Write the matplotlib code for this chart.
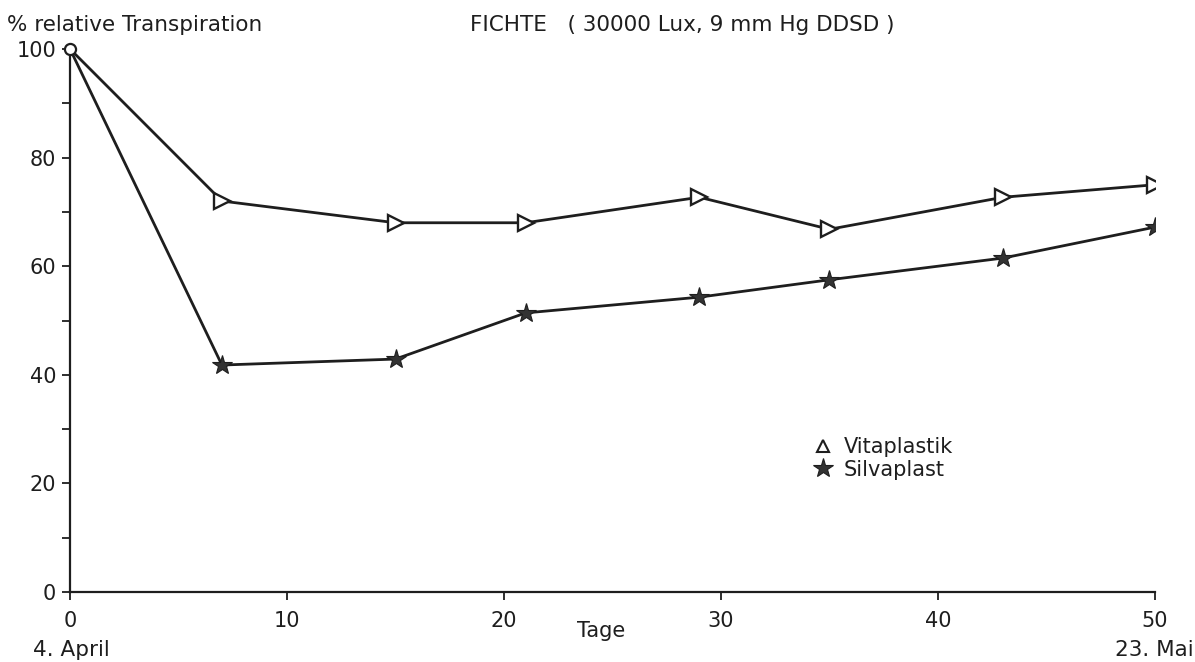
import numpy as np
import matplotlib.pyplot as plt

# Tage nach 4. April
tage = [0, 7, 15, 21, 29, 35, 43, 50]
vitaplastik = [100, 72.0, 68.0, 68.0, 72.7, 66.8, 72.7, 75.0]
silvaplast = [100, 41.8, 42.9, 51.4, 54.3, 57.5, 61.5, 67.2]

ink = '#1e1e1e'
plt.rcParams['font.family'] = ['DejaVu Sans']

fig = plt.figure(figsize=(11.95, 6.62), dpi=100)
ax = fig.add_axes([0.0586, 0.1057, 0.9079, 0.8203])

ax.plot(tage, vitaplastik, color=ink, lw=2.0, zorder=2)
ax.plot(tage[1:], vitaplastik[1:], ls='none', marker='>', ms=11,
        mfc='white', mec=ink, mew=1.7, zorder=3)
ax.plot(tage, silvaplast, color=ink, lw=2.0, zorder=2)
ax.plot(tage[1:], silvaplast[1:], ls='none', marker='*', ms=15,
        mfc='#333333', mec=ink, mew=0.8, zorder=3)
# gemeinsamer Startpunkt
ax.plot(tage[0], vitaplastik[0], ls='none', marker='o', ms=8,
        mfc='white', mec=ink, mew=1.6, zorder=4, clip_on=False)

ax.set_xlim(0, 50)
ax.set_ylim(0, 100)
ax.spines['top'].set_visible(False)
ax.spines['right'].set_visible(False)
for s in ['left', 'bottom']:
    ax.spines[s].set_linewidth(1.6)
    ax.spines[s].set_color(ink)

ax.set_xticks([0, 10, 20, 30, 40, 50])
ax.set_yticks([0, 20, 40, 60, 80, 100])
ax.set_yticks([10, 30, 50, 70, 90], minor=True)
ax.tick_params(axis='both', which='both', direction='out', length=6,
               width=1.3, color=ink, labelsize=15, labelcolor=ink)
ax.tick_params(axis='x', pad=8)
ax.tick_params(axis='y', pad=4)

fig.text(0.006, 0.962, '% relative Transpiration', fontsize=15.5, color=ink,
         ha='left', va='center')
fig.text(0.393, 0.962, 'FICHTE   ( 30000 Lux, 9 mm Hg DDSD )', fontsize=15.5,
         color=ink, ha='left', va='center')
fig.text(0.503, 0.047, 'Tage', fontsize=15, color=ink, ha='center', va='center')
fig.text(0.028, 0.018, '4. April', fontsize=15.5, color=ink, ha='left', va='center')
fig.text(0.999, 0.018, '23. Mai', fontsize=15.5, color=ink, ha='right', va='center')

# Legende
ax.plot([], [], ls='none', marker='^', ms=9, mfc='white', mec=ink, mew=1.5,
        label='Vitaplastik')
ax.plot([], [], ls='none', marker='*', ms=15, mfc='#333333', mec=ink, mew=0.8,
        label='Silvaplast')
h, l = ax.get_legend_handles_labels()
ax.legend(h[-2:], l[-2:], loc='upper left', bbox_to_anchor=(0.665, 0.32),
          frameon=False, fontsize=15, handletextpad=0.4, labelspacing=0.12,
          handlelength=1.2, labelcolor=ink)

fig.savefig('out.png', dpi=100)
